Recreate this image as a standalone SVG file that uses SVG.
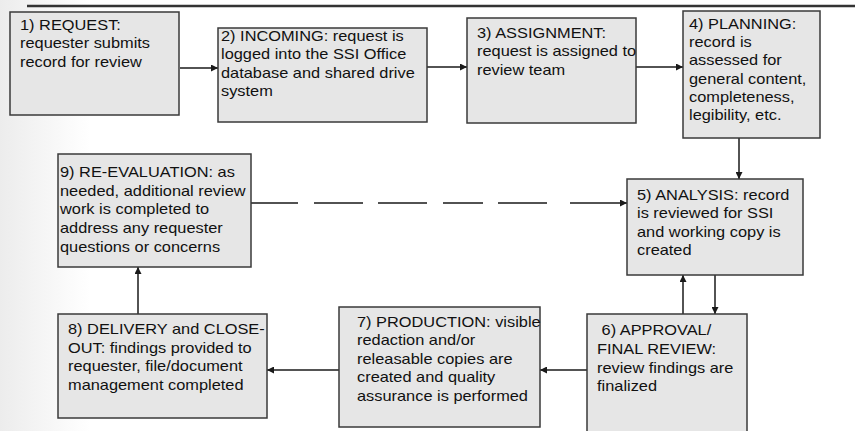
<svg xmlns="http://www.w3.org/2000/svg" width="855" height="431" viewBox="0 0 855 431">
<defs>
<linearGradient id="bg" x1="0" y1="0" x2="1" y2="0">
<stop offset="0" stop-color="#e4e4e4"/>
<stop offset="1" stop-color="#ffffff"/>
</linearGradient>
<marker id="ah" viewBox="0 0 10 10" refX="10" refY="5" markerWidth="7" markerHeight="7" markerUnits="userSpaceOnUse" orient="auto">
<path d="M0,0 L10,5 L0,10 z" fill="#1a1a1a"/>
</marker>
<style>
.box{fill:#e6e6e6;stroke:#3a3a3a;stroke-width:1.5}
.t{font-family:"Liberation Sans",Arial,sans-serif;font-size:14px;fill:#111}
.c{fill:none;stroke:#1a1a1a;stroke-width:1.5}
</style>
</defs>
<rect x="0" y="0" width="855" height="431" fill="#ffffff"/>
<rect x="0" y="0" width="90" height="431" fill="url(#bg)" opacity="0.7"/>
<line x1="27" y1="6" x2="855" y2="6" stroke="#333" stroke-width="2.5"/>

<g id="connectors">
<line class="c" x1="180" y1="68" x2="218" y2="68" marker-end="url(#ah)"/>
<line class="c" x1="427" y1="67" x2="467" y2="67" marker-end="url(#ah)"/>
<line class="c" x1="636" y1="67" x2="683" y2="67" marker-end="url(#ah)"/>
<line class="c" x1="739" y1="138" x2="739" y2="179" marker-end="url(#ah)"/>
<path class="c" d="M251,203 H298 M314,203 H363 M378,203 H427 M443,203 H483 M498,203 H547"/>
<line class="c" x1="570" y1="203" x2="627" y2="203" marker-end="url(#ah)"/>
<line class="c" x1="715" y1="275" x2="715" y2="314" marker-end="url(#ah)"/>
<line class="c" x1="683" y1="314" x2="683" y2="275" marker-end="url(#ah)"/>
<line class="c" x1="587" y1="370" x2="540" y2="370" marker-end="url(#ah)"/>
<line class="c" x1="339" y1="370" x2="267" y2="370" marker-end="url(#ah)"/>
<line class="c" x1="138" y1="314" x2="138" y2="267" marker-end="url(#ah)"/>
</g>

<g id="n1">
<rect class="box" x="10" y="12" width="169" height="103"/>
<text class="t" transform="translate(20,30) scale(1.17,1)"><tspan x="0" y="0">1) REQUEST:</tspan><tspan x="0" y="18.5">requester submits</tspan><tspan x="0" y="37">record for review</tspan></text>
</g>
<g id="n2">
<rect class="box" x="218" y="28" width="209" height="94"/>
<text class="t" transform="translate(221,41) scale(1.17,1)"><tspan x="0" y="0">2) INCOMING: request is</tspan><tspan x="0" y="18.5">logged into the SSI Office</tspan><tspan x="0" y="37">database and shared drive</tspan><tspan x="0" y="55.5">system</tspan></text>
</g>
<g id="n3">
<rect class="box" x="467" y="18" width="169" height="105"/>
<text class="t" transform="translate(477,38) scale(1.17,1)"><tspan x="0" y="0">3) ASSIGNMENT:</tspan><tspan x="0" y="18.5">request is assigned to</tspan><tspan x="0" y="37">review team</tspan></text>
</g>
<g id="n4">
<rect class="box" x="683" y="11" width="137" height="127"/>
<text class="t" transform="translate(689,29) scale(1.17,1)"><tspan x="0" y="0">4) PLANNING:</tspan><tspan x="0" y="18.2">record is</tspan><tspan x="0" y="36.4">assessed for</tspan><tspan x="0" y="54.6">general content,</tspan><tspan x="0" y="72.8">completeness,</tspan><tspan x="0" y="91">legibility, etc.</tspan></text>
</g>
<g id="n5">
<rect class="box" x="627" y="179" width="176" height="96"/>
<text class="t" transform="translate(637,200) scale(1.17,1)"><tspan x="0" y="0">5) ANALYSIS: record</tspan><tspan x="0" y="18.5">is reviewed for SSI</tspan><tspan x="0" y="37">and working copy is</tspan><tspan x="0" y="55.5">created</tspan></text>
</g>
<g id="n6">
<rect class="box" x="587" y="314" width="160" height="130"/>
<text class="t" transform="translate(597,335) scale(1.17,1)" xml:space="preserve"><tspan x="0" y="0"> 6) APPROVAL/</tspan><tspan x="0" y="18.8">FINAL REVIEW:</tspan><tspan x="0" y="37.6">review findings are</tspan><tspan x="0" y="56.4">finalized</tspan></text>
</g>
<g id="n7">
<rect class="box" x="339" y="307" width="201" height="120"/>
<text class="t" transform="translate(357,327) scale(1.17,1)"><tspan x="0" y="0">7) PRODUCTION: visible</tspan><tspan x="0" y="18.5">redaction and/or</tspan><tspan x="0" y="37">releasable copies are</tspan><tspan x="0" y="55.5">created and quality</tspan><tspan x="0" y="74">assurance is performed</tspan></text>
</g>
<g id="n8">
<rect class="box" x="58" y="314" width="209" height="104"/>
<text class="t" transform="translate(68,334) scale(1.17,1)"><tspan x="0" y="0">8) DELIVERY and CLOSE-</tspan><tspan x="0" y="18.7">OUT: findings provided to</tspan><tspan x="0" y="37.4">requester, file/document</tspan><tspan x="0" y="56.1">management completed</tspan></text>
</g>
<g id="n9">
<rect class="box" x="58" y="154" width="193" height="113"/>
<text class="t" transform="translate(60,177) scale(1.17,1)"><tspan x="0" y="0">9) RE-EVALUATION: as</tspan><tspan x="0" y="18.7">needed, additional review</tspan><tspan x="0" y="37.4">work is completed to</tspan><tspan x="0" y="56.1">address any requester</tspan><tspan x="0" y="74.8">questions or concerns</tspan></text>
</g>
</svg>
